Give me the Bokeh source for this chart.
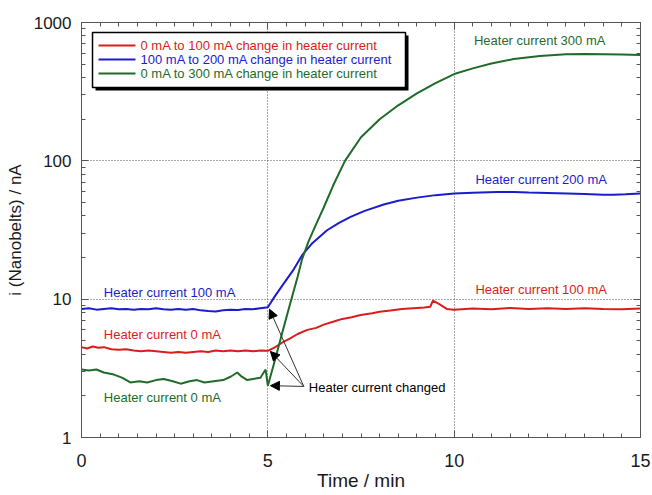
from bokeh.plotting import figure
from bokeh.models import (FixedTicker, LinearAxis, LogAxis, Label, Arrow,
                          NormalHead, BoxAnnotation, Range1d, PrintfTickFormatter,
                          CustomJSTickFormatter)
from bokeh.embed import file_html
from bokeh.resources import INLINE

# ---------------- data ----------------
# 0 mA -> 100 mA (red)
red_t = [0, 0.15, 0.3, 0.45, 0.6, 0.8, 1.0, 1.2, 1.4, 1.6, 1.8, 2.0, 2.2, 2.4,
         2.6, 2.8, 3.0, 3.2, 3.4, 3.6, 3.8, 4.0, 4.2, 4.4, 4.6, 4.8, 5.0,
         5.2, 5.43, 5.6, 5.8, 6.06, 6.3, 6.5, 6.77, 7.0, 7.25, 7.49, 7.8, 8.0,
         8.29, 8.6, 8.9, 9.2, 9.36, 9.43, 9.6, 9.8, 10.0, 10.5, 11.0, 11.5,
         12.0, 12.5, 13.0, 13.5, 14.0, 14.5, 15.0]
red_i = [4.5, 4.4, 4.55, 4.45, 4.5, 4.35, 4.3, 4.35, 4.25, 4.2, 4.25, 4.2, 4.15,
         4.1, 4.15, 4.1, 4.15, 4.2, 4.15, 4.25, 4.2, 4.25, 4.2, 4.25, 4.2, 4.25, 4.23,
         4.5, 4.94, 5.2, 5.6, 6.0, 6.2, 6.55, 6.89, 7.2, 7.4, 7.69, 7.9, 8.1,
         8.27, 8.5, 8.6, 8.7, 8.83, 9.76, 9.2, 8.5, 8.4, 8.55, 8.45, 8.65,
         8.5, 8.6, 8.5, 8.6, 8.5, 8.45, 8.55]

# 100 mA -> 200 mA (blue)
blue_t = [0, 0.2, 0.4, 0.6, 0.8, 1.0, 1.2, 1.4, 1.6, 1.8, 2.0, 2.2, 2.4, 2.6,
          2.8, 3.0, 3.2, 3.4, 3.6, 3.8, 4.0, 4.2, 4.4, 4.6, 4.8, 5.0,
          5.2, 5.43, 5.7, 5.92, 6.2, 6.59, 6.9, 7.22, 7.6, 8.11, 8.5, 9.0,
          9.5, 10.0, 10.5, 11.15, 11.6, 12.0, 12.5, 13.03, 13.5, 14.0, 14.28,
          14.6, 15.0]
blue_i = [8.5, 8.6, 8.4, 8.5, 8.6, 8.45, 8.5, 8.4, 8.5, 8.45, 8.6, 8.45, 8.4,
          8.5, 8.4, 8.5, 8.3, 8.2, 8.15, 8.3, 8.4, 8.35, 8.5, 8.45, 8.6, 8.75,
          10.6, 13.0, 16.5, 20.8, 25.5, 31.5, 35.5, 39.3, 43.5, 48.3, 51.5, 54.2,
          56.5, 58.0, 58.8, 59.5, 59.5, 59.0, 58.5, 58.0, 57.5, 56.8, 56.8,
          57.3, 58.0]

# 0 mA -> 300 mA (green)
green_t = [0, 0.2, 0.4, 0.6, 0.87, 1.1, 1.31, 1.55, 1.76, 2.0, 2.21, 2.45, 2.66,
           2.9, 3.1, 3.3, 3.55, 3.8, 4.0, 4.18, 4.3, 4.45, 4.6, 4.8, 4.94, 5.0,
           5.2, 5.4, 5.6, 5.8, 5.92, 6.1, 6.3, 6.5, 6.75, 7.07, 7.5, 8.0, 8.5,
           9.0, 9.5, 10.0, 10.5, 11.0, 11.6, 12.3, 13.0, 13.5, 14.0, 14.5, 15.0]
green_i = [3.1, 3.05, 3.1, 2.95, 2.85, 2.7, 2.5, 2.55, 2.5, 2.6, 2.65, 2.55, 2.45,
           2.55, 2.6, 2.5, 2.55, 2.6, 2.75, 2.95, 2.75, 2.6, 2.65, 2.7, 3.1, 2.37,
           3.7, 5.9, 9.3, 14.5, 19.5, 26.5, 35.0, 46.0, 66.0, 100.0, 148.0, 200.0,
           252.0, 307.0, 365.0, 424.0, 466.0, 505.0, 544.0, 573.0, 590.0, 592.0,
           590.0, 586.0, 582.0]

x_ticks = [0, 5, 10, 15]
y_ticks = [1, 10, 100, 1000]

legend_labels = ["0 mA to 100 mA change in heater current",
                 "100 mA  to 200 mA change in heater current",
                 "0 mA to 300 mA change in heater current"]

RED = "#dc1c1c"
BLUE = "#1c1ccc"
GREEN = "#1f6b2a"
FONT = "Liberation Sans"
AXC = "#555555"
TXT = "#1a1a1a"

x_minor = [i * 0.5 for i in range(31) if i % 10 != 0]
y_minor = [m * 10 ** e for e in range(3) for m in range(2, 10)]


def xt():
    return FixedTicker(ticks=x_ticks, minor_ticks=x_minor)


def yt():
    return FixedTicker(ticks=y_ticks, minor_ticks=y_minor)


p = figure(width=652, height=495, x_range=Range1d(0, 15), y_range=Range1d(1, 1000),
           y_axis_type="log", output_backend="svg", toolbar_location=None,
           min_border_left=81, min_border_right=12, min_border_top=22,
           min_border_bottom=58)
p.background_fill_color = "white"
p.border_fill_color = "white"
p.outline_line_color = AXC
p.outline_line_width = 1


def style_axis(ax, size, standoff, show=True):
    ax.major_tick_in = 7
    ax.major_tick_out = 0
    ax.minor_tick_in = 4
    ax.minor_tick_out = 0
    ax.axis_line_color = AXC
    ax.major_tick_line_color = AXC
    ax.minor_tick_line_color = AXC
    ax.major_label_text_font = FONT
    ax.major_label_text_color = TXT
    ax.major_label_text_font_size = size
    ax.major_label_standoff = standoff
    if show:
        ax.formatter = PrintfTickFormatter(format="%d")
    else:
        ax.formatter = CustomJSTickFormatter(code="return ''")


p.xaxis.ticker = xt()
p.yaxis.ticker = yt()
style_axis(p.xaxis[0], "18px", 16)
style_axis(p.yaxis[0], "17px", 10)

xa = p.xaxis[0]
xa.axis_label = "Time / min"
xa.axis_label_text_font = FONT
xa.axis_label_text_font_size = "19px"
xa.axis_label_text_font_style = "normal"
xa.axis_label_text_color = TXT
xa.axis_label_standoff = 0

ya = p.yaxis[0]
ya.axis_label = "i (Nanobelts) / nA"
ya.axis_label_text_font = FONT
ya.axis_label_text_font_size = "17px"
ya.axis_label_text_font_style = "normal"
ya.axis_label_text_color = TXT
ya.axis_label_standoff = 6

top = LinearAxis(ticker=xt())
style_axis(top, "10px", 0, show=False)
p.add_layout(top, "above")
right = LogAxis(ticker=yt())
style_axis(right, "10px", 0, show=False)
p.add_layout(right, "right")

p.xgrid.ticker = xt()
p.ygrid.ticker = yt()
for g in (p.xgrid[0], p.ygrid[0]):
    g.grid_line_color = "#555555"
    g.grid_line_dash = "1 2"
    g.grid_line_width = 1

p.line(red_t, red_i, line_color=RED, line_width=2)
p.line(blue_t, blue_i, line_color=BLUE, line_width=2)
p.line(green_t, green_i, line_color=GREEN, line_width=2)

# ---------- legend (manual, colored labels) ----------
p.add_layout(BoxAnnotation(left=14, right=327, top=402, bottom=347,
                           left_units="screen", right_units="screen",
                           top_units="screen", bottom_units="screen",
                           fill_color="black", fill_alpha=1, line_color=None))
p.add_layout(BoxAnnotation(left=11, right=324, top=405, bottom=350,
                           left_units="screen", right_units="screen",
                           top_units="screen", bottom_units="screen",
                           fill_color="white", fill_alpha=1, line_color="black",
                           line_width=1.5, line_alpha=1))
for k, (lab, col) in enumerate(zip(legend_labels, [RED, BLUE, GREEN])):
    yy = 392 - 14 * k
    p.add_layout(Arrow(end=None, x_start=17, y_start=yy, x_end=54, y_end=yy,
                       start_units="screen", end_units="screen",
                       line_color=col, line_width=2))
    p.add_layout(Label(x=59, y=yy, x_units="screen", y_units="screen", text=lab,
                       text_font=FONT, text_font_size="13px", text_color=col,
                       text_baseline="middle", text_align="left"))

# ---------- in-plot annotations ----------
notes = [
    ("Heater current 100 mA", 0.6, 11.2, BLUE),
    ("Heater current 0 mA", 0.6, 5.52, RED),
    ("Heater current 0 mA", 0.6, 1.93, GREEN),
    ("Heater current 300 mA", 10.53, 737, GREEN),
    ("Heater current  200 mA", 10.57, 73, BLUE),
    ("Heater current 100 mA", 10.57, 11.8, RED),
    ("Heater current changed", 6.1, 2.3, "black"),
]
for txt, x, y, col in notes:
    p.add_layout(Label(x=x, y=y, text=txt, text_font=FONT, text_font_size="13px",
                       text_color=col, text_baseline="middle", text_align="left"))

for hx, hy in [(5.045, 8.46), (5.07, 4.19), (5.07, 2.37)]:
    p.add_layout(Arrow(end=NormalHead(size=9, fill_color="black", line_color="black"),
                       x_start=5.965, y_start=2.34, x_end=hx, y_end=hy,
                       line_color="#333333", line_width=1))

open("out.html", "w").write(file_html(p, INLINE))
